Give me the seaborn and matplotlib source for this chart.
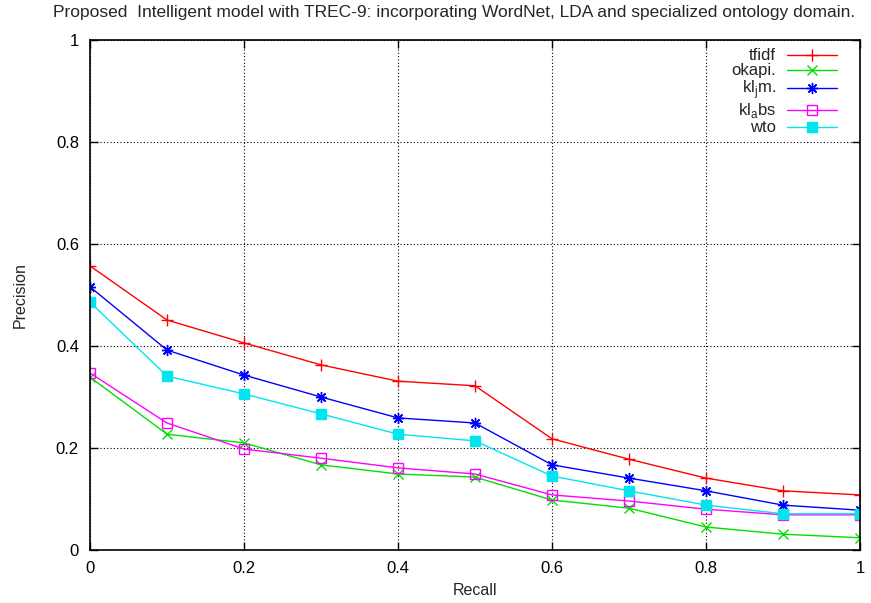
import matplotlib
matplotlib.use('Agg')
import matplotlib.pyplot as plt
import pandas as pd
import seaborn as sns

recall = [0.0, 0.1, 0.2, 0.3, 0.4, 0.5, 0.6, 0.7, 0.8, 0.9, 1.0]

tfidf = [0.557, 0.451, 0.406, 0.363, 0.331, 0.322, 0.218, 0.178, 0.141, 0.116, 0.108]
okapi = [0.339, 0.227, 0.210, 0.167, 0.149, 0.143, 0.098, 0.082, 0.045, 0.031, 0.024]
kljm = [0.516, 0.392, 0.343, 0.300, 0.259, 0.249, 0.167, 0.141, 0.116, 0.088, 0.078]
klabs = [0.347, 0.249, 0.198, 0.180, 0.161, 0.149, 0.108, 0.096, 0.080, 0.069, 0.069]
wto = [0.486, 0.341, 0.306, 0.267, 0.227, 0.214, 0.145, 0.116, 0.088, 0.071, 0.071]

labels = ['tfidf', 'okapi.', r'kl$_\mathregular{j}$m.', r'kl$_\mathregular{a}$bs', 'wto']
colors = ['#ff0000', '#00e000', '#0000ff', '#ff00ff', '#00e5ee']
markers = ['+', 'x', (8, 2, 0), 's', 's']
filled = [True, True, True, False, True]
msizes = [8, 7, 8, 7, 6.5]

sns.set_theme(style='white')
plt.rcParams['font.family'] = ['Liberation Sans', 'DejaVu Sans']
plt.rcParams['mathtext.fontset'] = 'custom'
plt.rcParams['mathtext.rm'] = 'Liberation Sans'

fig = plt.figure(figsize=(8.71, 6.03), dpi=100)
ax = fig.add_axes([90 / 871, 53 / 603, 770 / 871, 510 / 603])

series = [tfidf, okapi, kljm, klabs, wto]
for vals, lab, col, mk, fl, ms in zip(series, labels, colors, markers, filled, msizes):
  df = pd.DataFrame({'Recall': recall, 'Precision': vals})
  sns.lineplot(data=df, x='Recall', y='Precision', ax=ax, color=col, label=lab,
               marker=mk, markersize=ms, linewidth=1,
               markerfacecolor=(col if fl else 'none'), markeredgecolor=col,
               markeredgewidth=1)

ax.set_xlim(0, 1)
ax.set_ylim(0, 1)
ticks = [0, 0.2, 0.4, 0.6, 0.8, 1]
ax.set_xticks(ticks)
ax.set_yticks(ticks)
ax.set_xticklabels(['0', '0.2', '0.4', '0.6', '0.8', '1'])
ax.set_yticklabels(['0', '0.2', '0.4', '0.6', '0.8', '1'])
ax.tick_params(direction='in', length=6, width=1, top=True, right=True,
               bottom=True, left=True, labelsize=12, colors='black', pad=8)
ax.grid(True, color='black', linestyle=(0, (1, 2)), linewidth=0.8)
for sp in ax.spines.values():
  sp.set_color('black')
  sp.set_linewidth(1.2)
ax.set_xlabel('Recall', fontsize=11.5, labelpad=5)
ax.set_ylabel('Precision', fontsize=11.5, labelpad=20)

# gnuplot style key: text right aligned, sample on the right, no frame
leg = ax.legend(loc='upper right', bbox_to_anchor=(0.975, 0.99), frameon=False,
                markerfirst=False, fontsize=12, handlelength=3.0,
                labelspacing=0.0, borderaxespad=0.0, borderpad=0.2,
                handletextpad=0.7)
for col in leg._legend_handle_box.get_children():
  col.align = 'right'

fig.text(454 / 871, 1 - 13 / 603, 'Proposed  Intelligent model with TREC-9: incorporating WordNet, LDA and specialized ontology domain.',
         ha='center', va='center', fontsize=12.5)

fig.savefig('out.png', dpi=100)
